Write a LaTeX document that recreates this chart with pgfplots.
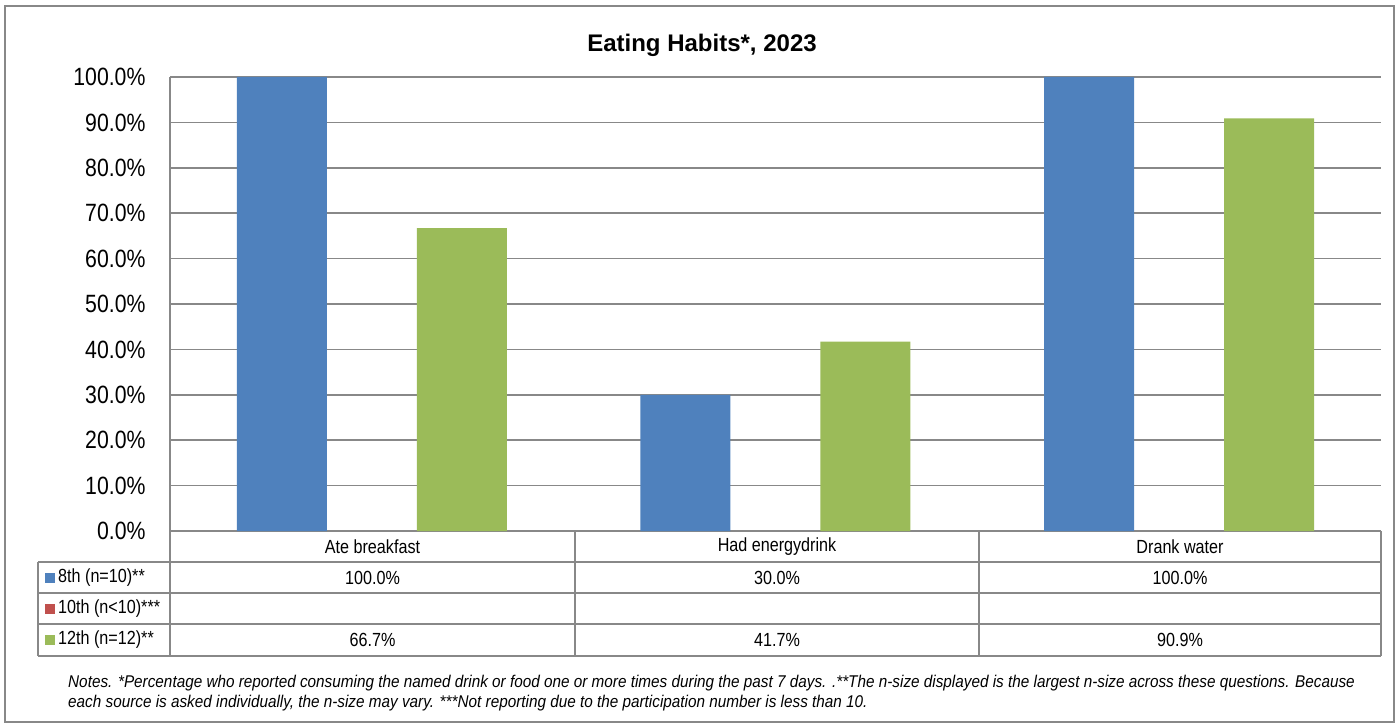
\documentclass[border=0pt]{standalone}
\usepackage{pgfplots}
\usepackage{pgfplotstable}
\pgfplotsset{compat=1.18}
\usepackage{fontspec}
\setmainfont{Liberation Sans}
\newfontfamily\narrowfont[FakeStretch=0.85]{Liberation Sans}
\newfontfamily\notesfont[FakeStretch=0.9]{Liberation Sans}
\definecolor{cblue}{HTML}{4F81BD}
\definecolor{cred}{HTML}{C0504D}
\definecolor{cgreen}{HTML}{9BBB59}
\definecolor{cgrid}{HTML}{888888}
\pgfplotstableread{
cat y8 y12
0 100.0 66.7
1 30.0 41.7
2 100.0 90.9
}\datatab
\begin{document}
\begin{tikzpicture}[x=1pt,y=1pt]
\useasboundingbox (0,0) rectangle (1399,-727);
\draw[cgrid,line width=1.5pt] (5,-6) rectangle (1394,-722);
\node[font=\bfseries\fontsize{24}{28}\selectfont] at (702,-45) {Eating Habits*, 2023};
\begin{axis}[
  at={(170pt,-531pt)}, anchor=south west,
  scale only axis, width=1211pt, height=454pt,
  xmin=-0.5, xmax=2.5, ymin=0, ymax=100,
  xtick=\empty,
  ytick={0,10,...,100},
  ymajorgrids, grid style={cgrid,line width=1.5pt},
  axis line style={cgrid,line width=1.5pt},
  axis x line*=bottom, axis y line*=left,
  y axis line style={-}, x axis line style={-},
  ytick style={draw=none},
  yticklabel={\pgfmathprintnumber[fixed,fixed zerofill,precision=1]{\tick}\%},
  yticklabel style={font=\narrowfont\fontsize{25}{30}\selectfont, xshift=-21pt},
  /pgf/number format/assume math mode=true,
  ybar, bar width=90pt,
  clip=false,
]
\addplot[fill=cblue, draw=none, bar shift=-90pt] table[x=cat,y=y8] {\datatab};
\addplot[fill=cgreen, draw=none, bar shift=90pt] table[x=cat,y=y12] {\datatab};
\end{axis}
% data table
\begin{scope}[cgrid, line width=1.5pt]
\foreach \yy in {562,593,624,656} \draw (38,-\yy) -- (1381,-\yy);
\draw (38,-562) -- (38,-656);
\foreach \xx in {170,575,979,1381} \draw (\xx,-531) -- (\xx,-656);
\end{scope}
\begin{scope}[font=\narrowfont\fontsize{19}{23}\selectfont]
\node at (372.5,-547) {Ate breakfast};
\node at (777,-547) {Had energydrink};
\node at (1180,-547) {Drank water};
\node at (372.5,-578) {100.0\%};
\node at (777,-578) {30.0\%};
\node at (1180,-578) {100.0\%};
\node at (372.5,-640) {66.7\%};
\node at (777,-640) {41.7\%};
\node at (1180,-640) {90.9\%};
\fill[cblue] (45,-573) rectangle (55,-583);
\fill[cred] (45,-604) rectangle (55,-614);
\fill[cgreen] (45,-635) rectangle (55,-645);
\node[anchor=west,inner sep=0pt] at (58,-578) {8th (n=10)**};
\node[anchor=west,inner sep=0pt] at (58,-609) {10th (n<10)***};
\node[anchor=west,inner sep=0pt] at (58,-640) {12th (n=12)**};
\end{scope}
\begin{scope}[font=\notesfont\itshape\fontsize{17}{20}\selectfont]
\node[anchor=west,inner sep=0pt] at (68,-683) {Notes. *Percentage who reported consuming the named drink or food one or more times during the past 7 days. .**The n-size displayed is the largest n-size across these questions. Because};
\node[anchor=west,inner sep=0pt] at (68,-703) {each source is asked individually, the n-size may vary. ***Not reporting due to the participation number is less than 10.};
\end{scope}
\end{tikzpicture}
\end{document}
